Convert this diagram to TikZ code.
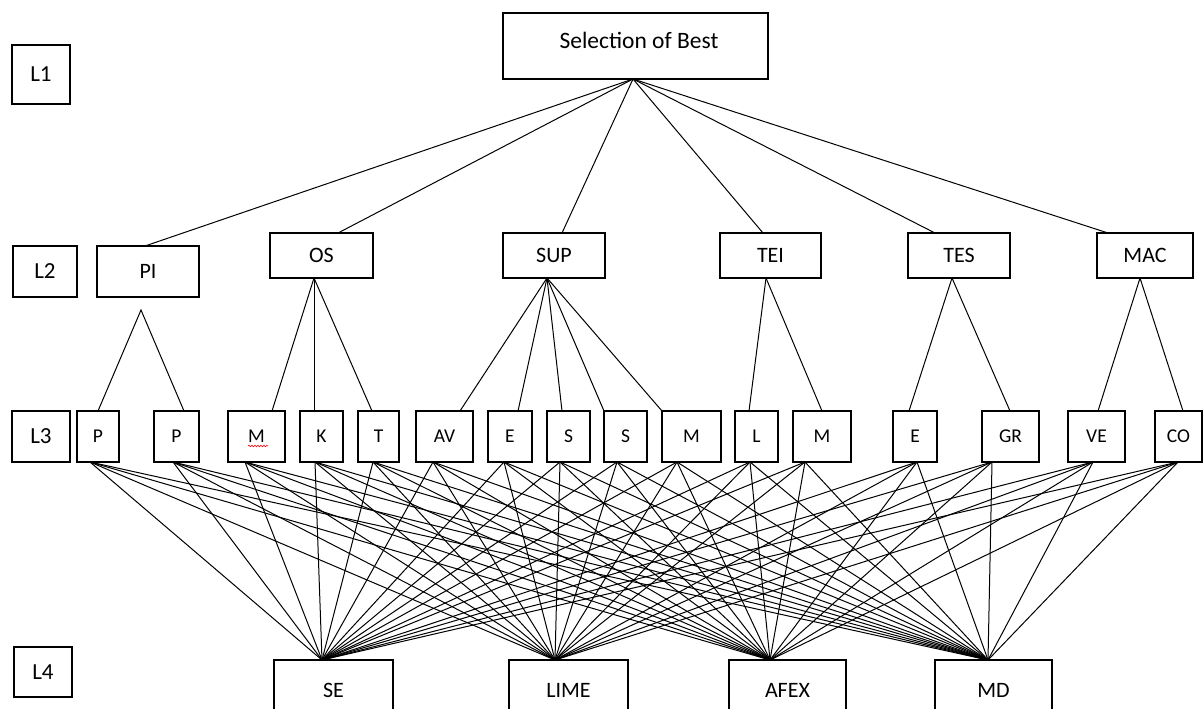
\documentclass[tikz,border=0pt]{standalone}
\usepackage{fontspec}
\setmainfont{Carlito}
\usetikzlibrary{decorations.pathmorphing}
\begin{document}
\begin{tikzpicture}[x=1pt,y=-1pt,
  box/.style={draw, line width=1.2pt, inner sep=0pt, fill=white, font=\fontsize{22}{24}\selectfont},
  lvl/.style={box, font=\fontsize{23}{25}\selectfont},
  leaf/.style={box, font=\fontsize{19.5}{21}\selectfont},
  conn/.style={line width=1pt, black}]
\useasboundingbox (0,0) rectangle (1204,709);
\clip (0,0) rectangle (1204,709);

% ---------- level labels ----------
\node[lvl, minimum width=58, minimum height=59] (L1) at (41,74.5) {L1};
\node[lvl, minimum width=64, minimum height=51] (L2) at (45,271.5) {L2};
\node[lvl, minimum width=58, minimum height=51] (L3) at (41,436.5) {L3};
\node[lvl, minimum width=58, minimum height=50] (L4) at (43,672) {L4};

% ---------- L1 ----------
\node[box, minimum width=265, minimum height=66] (top) at (635.5,46) {};
\node[font=\fontsize{23.5}{25}\selectfont, inner sep=0pt] (toptext) at (639,40) {Selection of Best};
\coordinate (apex) at (633,79);

% ---------- L2 ----------
\node[box, minimum width=102, minimum height=51] (pi) at (148,271.5) {PI};
\foreach \nm/\xl/\xr/\lab in {os/270/373/OS, sup/503/605/SUP, tei/720/821/TEI, tes/908/1010/TES, mac/1097/1193/MAC}{
  \node[box, minimum width={\xr-\xl}, minimum height=45] (\nm) at ({(\xl+\xr)/2},255.5) {\lab};
}
\coordinate (pi-t) at (145,246);
\coordinate (os-t) at (338,233);
\coordinate (sup-t) at (562,233);
\coordinate (tei-t) at (763,233);
\coordinate (tes-t) at (935,233);
\coordinate (mac-t) at (1108,233);
\coordinate (pi-b) at (141,310);
\coordinate (os-b) at (314,278);
\coordinate (sup-b) at (547,278);
\coordinate (tei-b) at (766,278);
\coordinate (tes-b) at (952,278);
\coordinate (mac-b) at (1140,278);

% ---------- L3 ----------
\foreach \nm/\xl/\xr/\lab/\xt/\xb in {p1/77/119/P/98/90, p2/154/199/P/184/173, m1/228/285/M/272/245, k/300/343/K/314/315, t/358/399/T/372/373, av/416/473/AV/460/433, e1/488/532/E/518/504, s1/547/590/S/562/560, s2/604/647/S/604/617, m2/662/721/M/662/677, l/735/778/L/749/750, m3/793/851/M/822/805, e2/893/937/E/909/917, gr/982/1039/GR/1010/992, ve/1068/1125/VE/1098/1093, co/1155/1202/CO/1183/1178}{
  \node[leaf, minimum width={\xr-\xl}, minimum height=51] (\nm) at ({(\xl+\xr)/2},436.5) {\lab};
  \coordinate (\nm-t) at (\xt,411);
  \coordinate (\nm-b) at (\xb,462);
}
\draw[red, line width=0.6pt, decorate, decoration={snake, amplitude=0.8pt, segment length=3pt}] (248,446) -- (268,446);

% ---------- L4 ----------
\foreach \nm/\xl/\xr/\lab/\xt in {se/274/393/SE/322, lime/509/628/LIME/555, afex/729/846/AFEX/770, md/935/1052/MD/988}{
  \node[box, minimum width={\xr-\xl}, minimum height=60] (\nm) at ({(\xl+\xr)/2},690) {\lab};
  \coordinate (\nm-t) at (\xt,660);
}

% ---------- connectors ----------
\foreach \c in {pi,os,sup,tei,tes,mac}
  \draw[conn] (apex) -- (\c-t);
\draw[conn] (p1-t) -- (pi-b) -- (p2-t);
\foreach \c in {m1,k,t} \draw[conn] (os-b) -- (\c-t);
\foreach \c in {av,e1,s1,s2,m2} \draw[conn] (sup-b) -- (\c-t);
\foreach \c in {l,m3} \draw[conn] (tei-b) -- (\c-t);
\foreach \c in {e2,gr} \draw[conn] (tes-b) -- (\c-t);
\foreach \c in {ve,co} \draw[conn] (mac-b) -- (\c-t);
\foreach \a in {p1,p2,m1,k,t,av,e1,s1,s2,m2,l,m3,e2,gr,ve,co}
  \foreach \b in {se,lime,afex,md}
    \draw[conn] (\a-b) -- (\b-t);
\end{tikzpicture}
\end{document}
